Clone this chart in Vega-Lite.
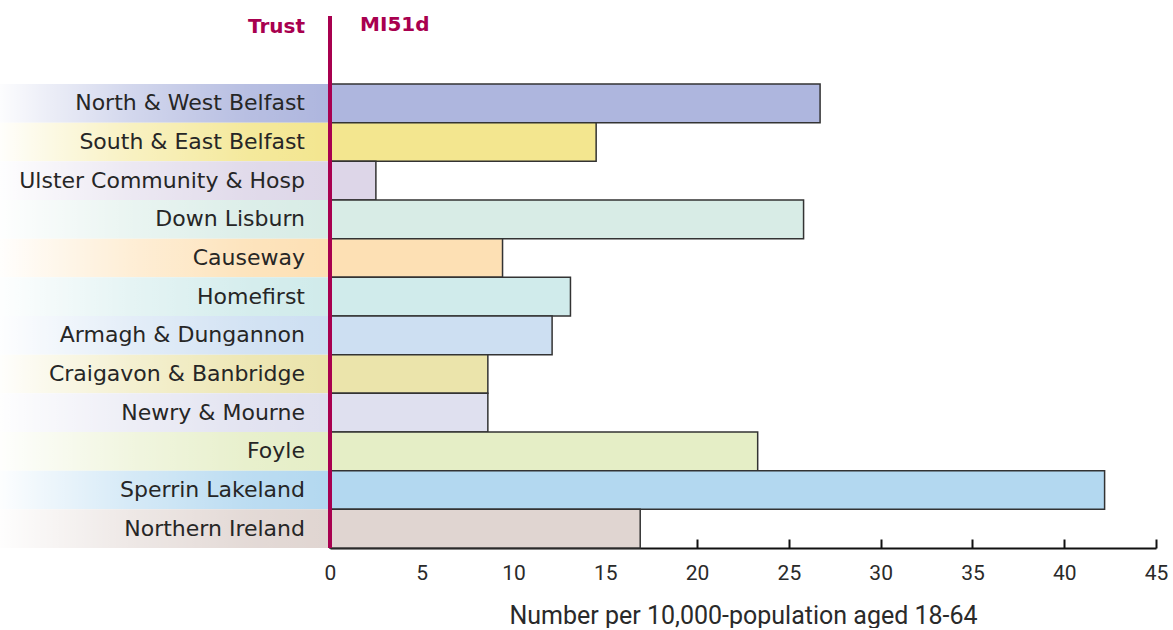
{
  "$schema": "https://vega.github.io/schema/vega-lite/v6.json",
  "background": "white",
  "padding": {"left": 0, "top": 14, "right": 0, "bottom": 0},
  "spacing": 0,
  "bounds": "flush",
  "config": {"view": {"stroke": null}, "concat": {"spacing": 0}},
  "data": {
    "values": [
      {"trust": "North & West Belfast", "value": 26.7},
      {"trust": "South & East Belfast", "value": 14.5},
      {"trust": "Ulster Community & Hosp", "value": 2.5},
      {"trust": "Down Lisburn", "value": 25.8},
      {"trust": "Causeway", "value": 9.4},
      {"trust": "Homefirst", "value": 13.1},
      {"trust": "Armagh & Dungannon", "value": 12.1},
      {"trust": "Craigavon & Banbridge", "value": 8.6},
      {"trust": "Newry & Mourne", "value": 8.6},
      {"trust": "Foyle", "value": 23.3},
      {"trust": "Sperrin Lakeland", "value": 42.2},
      {"trust": "Northern Ireland", "value": 16.9}
    ]
  },
  "hconcat": [
    {
      "width": 330,
      "height": 532,
      "title": {"text": "Trust", "anchor": "end", "dx": -25, "offset": -21, "font": "DejaVu Sans", "fontSize": 20, "fontWeight": "bold", "color": "#a8004f"},
      "layer": [
        {
          "mark": {"type": "rect"},
          "encoding": {
            "y": {"field": "trust", "type": "nominal", "sort": null, "axis": null,
                  "scale": {"paddingInner": 0, "paddingOuter": 0.8793, "align": 1}},
            "x": {"datum": 0, "type": "quantitative", "scale": {"domain": [0, 1], "nice": false}, "axis": null},
            "x2": {"datum": 1},
            "color": {"field": "trust", "type": "nominal", "legend": null,
              "scale": {
                "domain": ["North & West Belfast", "South & East Belfast", "Ulster Community & Hosp", "Down Lisburn", "Causeway", "Homefirst", "Armagh & Dungannon", "Craigavon & Banbridge", "Newry & Mourne", "Foyle", "Sperrin Lakeland", "Northern Ireland"],
                "range": ["#aeb6de", "#f3e68f", "#ddd6e8", "#d8ece6", "#fde0b4", "#d0ebeb", "#cddff2", "#ebe4ab", "#dfe0ef", "#e5eec6", "#b3d8f0", "#e0d5d1"]
              }
            }
          }
        },
        {
          "data": {"values": [{"band": "fade"}]},
          "mark": {"type": "rect", "fill": {"gradient": "linear", "x1": 0, "x2": 1, "y1": 0, "y2": 0,
            "stops": [
              {"offset": 0, "color": "rgba(255,255,255,0.97)"},
              {"offset": 0.12, "color": "rgba(255,255,255,0.8)"},
              {"offset": 0.4, "color": "rgba(255,255,255,0.45)"},
              {"offset": 0.75, "color": "rgba(255,255,255,0.12)"},
              {"offset": 1, "color": "rgba(255,255,255,0)"}
            ]}},
          "encoding": {
            "x": {"datum": 0, "type": "quantitative"},
            "x2": {"datum": 1}
          }
        },
        {
          "mark": {"type": "text", "align": "right", "baseline": "middle", "dx": -25, "font": "DejaVu Sans", "fontSize": 22, "color": "#262626"},
          "encoding": {
            "y": {"field": "trust", "type": "nominal", "sort": null},
            "x": {"datum": 1, "type": "quantitative"},
            "text": {"field": "trust"}
          }
        }
      ]
    },
    {
      "width": 826,
      "height": 532,
      "title": {"text": "MI51d", "anchor": "start", "dx": 36, "offset": -21, "font": "DejaVu Sans", "fontSize": 20, "fontWeight": "bold", "color": "#a8004f"},
      "layer": [
        {
          "mark": {"type": "bar", "stroke": "#333333", "strokeWidth": 1.5},
          "encoding": {
            "y": {"field": "trust", "type": "nominal", "sort": null, "axis": null,
                  "scale": {"paddingInner": 0, "paddingOuter": 0.8793, "align": 1}},
            "x": {"field": "value", "type": "quantitative",
              "scale": {"domain": [0, 45], "nice": false},
              "axis": {
                "values": [0, 5, 10, 15, 20, 25, 30, 35, 40, 45],
                "grid": false,
                "labelFlush": false,
                "domainColor": "#111111", "domainWidth": 2,
                "tickColor": "#111111", "tickWidth": 2, "tickSize": -9,
                "labelFont": "Roboto", "labelFontSize": 21, "labelColor": "#2a2a2a", "labelPadding": 23,
                "title": "Number per 10,000-population aged 18-64",
                "titleFont": "Roboto", "titleFontSize": 25, "titleFontWeight": "normal", "titleColor": "#2a2a2a", "titlePadding": 20
              }
            },
            "color": {"field": "trust", "type": "nominal", "legend": null,
              "scale": {
                "domain": ["North & West Belfast", "South & East Belfast", "Ulster Community & Hosp", "Down Lisburn", "Causeway", "Homefirst", "Armagh & Dungannon", "Craigavon & Banbridge", "Newry & Mourne", "Foyle", "Sperrin Lakeland", "Northern Ireland"],
                "range": ["#aeb6de", "#f3e68f", "#ddd6e8", "#d8ece6", "#fde0b4", "#d0ebeb", "#cddff2", "#ebe4ab", "#dfe0ef", "#e5eec6", "#b3d8f0", "#e0d5d1"]
              }
            }
          }
        },
        {
          "data": {"values": [{"line": "zero"}]},
          "mark": {"type": "rule", "color": "#a8004f", "strokeWidth": 4},
          "encoding": {"x": {"datum": 0, "type": "quantitative"}}
        }
      ]
    }
  ]
}
